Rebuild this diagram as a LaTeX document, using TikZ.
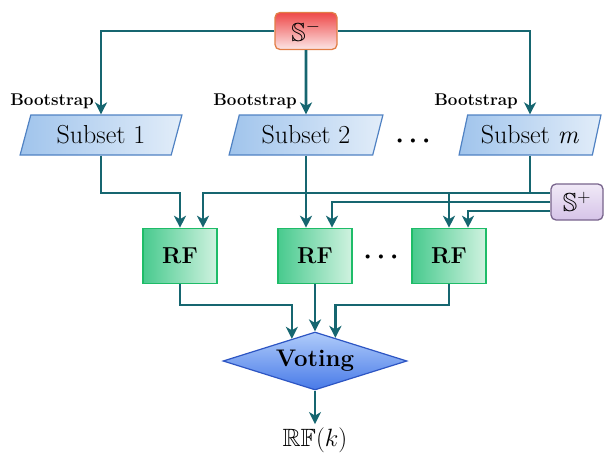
\RequirePackage{fix-cm}
\documentclass[tikz,border=0pt]{standalone}
\usepackage{fontspec}
\usepackage{amssymb}
\usetikzlibrary{arrows.meta,shapes.geometric,calc}
\definecolor{ln}{RGB}{22,102,112}
\definecolor{smdark}{RGB}{238,72,72}
\definecolor{smlight}{RGB}{252,230,230}
\definecolor{smborder}{RGB}{226,126,70}
\definecolor{spdark}{RGB}{214,196,232}
\definecolor{splight}{RGB}{240,233,247}
\definecolor{spborder}{RGB}{120,100,140}
\definecolor{subdark}{RGB}{160,196,236}
\definecolor{sublight}{RGB}{226,237,249}
\definecolor{subborder}{RGB}{80,130,195}
\definecolor{rfdark}{RGB}{72,202,142}
\definecolor{rflight}{RGB}{208,242,224}
\definecolor{rfborder}{RGB}{30,188,104}
\definecolor{vtop}{RGB}{176,204,250}
\definecolor{vbot}{RGB}{72,122,232}
\definecolor{vborder}{RGB}{45,85,195}
\begin{document}
\begin{tikzpicture}[x=1pt,y=-1pt,
  conn/.style={draw=ln,line width=2.6pt},
  arr/.style={conn,-{Stealth[length=12pt,width=12pt,inset=3.5pt]}},
  setbox/.style={rectangle,rounded corners=5pt,line width=1.3pt,
    font=\fontsize{26}{30}\selectfont,inner sep=0pt},
  subsetbox/.style={trapezium,trapezium left angle=70,trapezium right angle=110,
    trapezium stretches=true,minimum height=40pt,draw=subborder,line width=1.2pt,
    left color=subdark,right color=sublight,font=\fontsize{26}{30}\selectfont,inner sep=0pt},
  rfbox/.style={rectangle,minimum width=74pt,minimum height=55pt,draw=rfborder,
    line width=1.6pt,left color=rfdark,right color=rflight,
    font=\fontsize{23}{27}\selectfont\bfseries,inner sep=0pt},
  bootlabel/.style={font=\fontsize{17}{20}\selectfont\bfseries,inner sep=0pt,anchor=base east},
  dotsnode/.style={font=\fontsize{26}{30}\selectfont\boldmath,inner sep=0pt}
]
\useasboundingbox (0,0) rectangle (605,455);

% set nodes
\node[setbox,draw=smborder,top color=smdark,bottom color=smlight,
  minimum width=62pt,minimum height=37pt] (Sm) at (306,31) {$\mathbb{S}^{-}$};
\node[setbox,draw=spborder,top color=splight,bottom color=spdark,
  minimum width=52pt,minimum height=36pt] (Sp) at (577,202) {$\mathbb{S}^{+}$};

% subsets
\node[subsetbox,minimum width=162pt] (s1) at (101,135) {Subset 1};
\node[subsetbox,minimum width=154pt] (s2) at (306,135) {Subset 2};
\node[subsetbox,minimum width=142pt] (sm) at (530,135) {Subset \textit{m}};
\node[dotsnode] (d1) at (413,141) {$\cdots$};

% bootstrap labels
\node[bootlabel] (b1) at (94,105) {Bootstrap};
\node[bootlabel] (b2) at (297,105) {Bootstrap};
\node[bootlabel] (bm) at (518,105) {Bootstrap};

% RF boxes
\node[rfbox] (rf1) at (180,256) {RF};
\node[rfbox] (rf2) at (315,256) {RF};
\node[rfbox] (rf3) at (449,256) {RF};
\node[dotsnode] (d2) at (381,257) {$\cdots$};

% voting
\node[diamond,aspect=3.17,minimum width=184pt,minimum height=58pt,inner sep=0pt,
  draw=vborder,line width=1.2pt,top color=vtop,bottom color=vbot,
  font=\fontsize{24}{28}\selectfont\bfseries] (vote) at (315,361) {Voting};
\node[font=\fontsize{25}{30}\selectfont,inner sep=0pt,anchor=base] (out) at (315,446) {$\mathbb{RF}(k)$};

% helper coordinates
\coordinate (hy) at (0,193);
\coordinate (hv) at (0,305);
\coordinate (vl) at ($(vote.north)!0.25!(vote.west)$);
\coordinate (vr) at ($(vote.north)!0.22!(vote.east)$);

% S- to subsets
\draw[arr] (Sm.west) -| (s1.north);
\draw[arr] (Sm.east) -| (sm.north);
\draw[arr] (Sm.south) -- (s2.north);

% subsets to RF
\draw[arr] (s1.south) -- (s1.south |- hy) -| (rf1.north);
\draw[arr] (s2.south) -- (s2.south |- rf2.north);
\draw[arr] (sm.south) -- (sm.south |- hy) -| (rf3.north);

% S+ to RF
\draw[arr] ($(Sp.west)+(0,-9)$) -| ($(rf1.north)+(23,0)$);
\draw[arr] (Sp.west) -| ($(rf2.north)+(17,0)$);
\draw[arr] ($(Sp.west)+(0,9)$) -| ($(rf3.north)+(19,0)$);

% RF to voting
\draw[arr] (rf1.south) -- (rf1.south |- hv) -| (vl);
\draw[arr] (rf2.south) -- (vote.north);
\draw[arr] (rf3.south) -- (rf3.south |- hv) -| (vr);

% output
\draw[arr,shorten >=3pt] (vote.south) -- (out.north);
\end{tikzpicture}
\end{document}
